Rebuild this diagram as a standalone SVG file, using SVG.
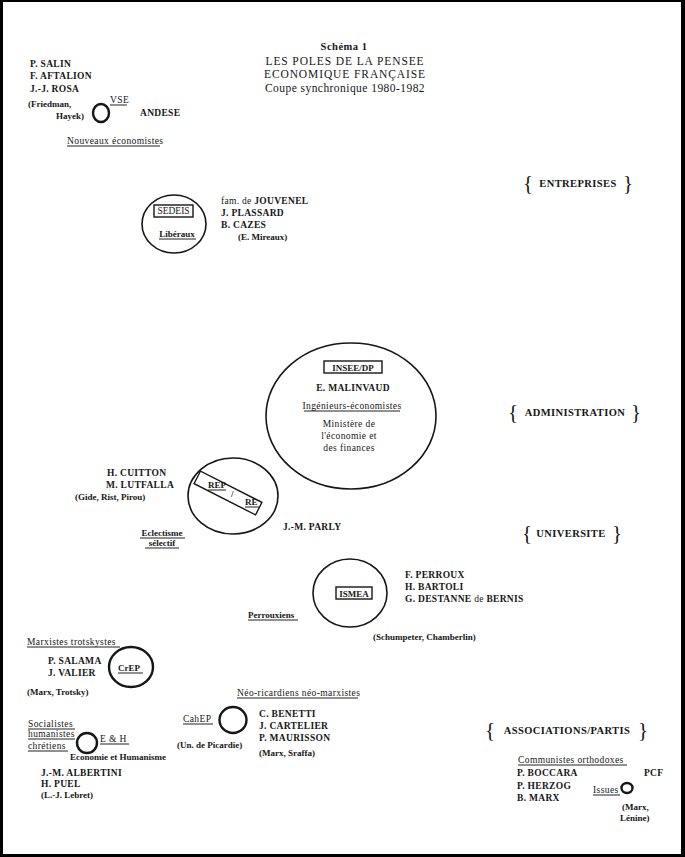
<svg xmlns="http://www.w3.org/2000/svg" width="685" height="857" viewBox="0 0 685 857">
<style>
text{font-family:"Liberation Serif","DejaVu Serif",serif;fill:#161616;font-size:10px}
.n{font-weight:bold;font-size:9.5px;letter-spacing:0.3px}
.s{font-size:9.5px;letter-spacing:0.4px}
.sb{font-size:9px;font-weight:bold}
.tt{font-size:11.5px;letter-spacing:0.9px}
.sec{font-size:10.5px;font-weight:bold;letter-spacing:0.4px}
.br{font-size:21px}
.m{text-anchor:middle}
.e{text-anchor:end}
.c{fill:none;stroke:#161616;stroke-width:1.6}
.ct{fill:none;stroke:#161616;stroke-width:2.4}
.u{stroke:#222;stroke-width:1}
.bx{fill:none;stroke:#161616;stroke-width:1.4}
</style>
<rect width="685" height="857" fill="#fff"/>
<g id="frame" fill="#000">
<rect x="0" y="0" width="685" height="2"/>
<rect x="0" y="0" width="3" height="857"/>
<rect x="681" y="0" width="4" height="857"/>
<rect x="0" y="854" width="685" height="3"/>
</g>
<g id="title">
<text class="m" x="344" y="50" style="font-weight:bold;font-size:10.5px;letter-spacing:0.5px">Schéma 1</text>
<text class="m tt" x="345" y="65">LES POLES DE LA PENSEE</text>
<text class="m tt" x="345" y="78">ECONOMIQUE FRANÇAISE</text>
<text class="m tt" x="345" y="92" style="letter-spacing:0.45px">Coupe synchronique 1980-1982</text>
</g>
<g id="sectors">
<g id="entreprises"><text class="br m" x="528" y="190">{</text><text class="sec m" x="578" y="187">ENTREPRISES</text><text class="br m" x="628" y="190">}</text></g>
<g id="administration"><text class="br m" x="513" y="419">{</text><text class="sec m" x="575" y="416">ADMINISTRATION</text><text class="br m" x="636" y="419">}</text></g>
<g id="universite"><text class="br m" x="527" y="540">{</text><text class="sec m" x="571" y="537">UNIVERSITE</text><text class="br m" x="617" y="540">}</text></g>
<g id="associations"><text class="br m" x="490" y="737">{</text><text class="sec m" x="567" y="734">ASSOCIATIONS/PARTIS</text><text class="br m" x="643" y="737">}</text></g>
</g>
<g id="node-vse">
<text class="n" x="30" y="67">P. SALIN</text>
<text class="n" x="30" y="79">F. AFTALION</text>
<text class="n" x="30" y="92">J.-J. ROSA</text>
<text class="sb" x="28" y="107">(Friedman,</text>
<text class="sb e" x="84" y="119">Hayek)</text>
<ellipse class="ct" cx="101" cy="113" rx="8" ry="9"/>
<text class="s" x="110" y="103">VSE</text>
<text class="n" x="140" y="116">ANDESE</text>
<text class="s" x="67" y="144">Nouveaux économistes</text>
</g>
<g id="node-sedeis">
<ellipse class="c" cx="174" cy="224" rx="32" ry="29"/>
<rect class="bx" x="154" y="205" width="39" height="12"/>
<text class="s m" x="173.5" y="214" style="letter-spacing:0">SEDEIS</text>
<text class="sb m" x="177" y="237">Libéraux</text>
<text class="n" x="221" y="204"><tspan style="font-weight:normal">fam. de</tspan> JOUVENEL</text>
<text class="n" x="221" y="216">J. PLASSARD</text>
<text class="n" x="221" y="228">B. CAZES</text>
<text class="sb" x="238" y="240">(E. Mireaux)</text>
</g>
<g id="node-insee">
<ellipse class="c" cx="351" cy="416" rx="85" ry="73"/>
<rect class="bx" x="324" y="361" width="58" height="12"/>
<text class="m" x="353" y="370.5" style="font-weight:bold;font-size:9px">INSEE/DP</text>
<text class="n m" x="353" y="391">E. MALINVAUD</text>
<text class="s m" x="352" y="409">Ingénieurs-économistes</text>
<text class="s m" x="349" y="427">Ministère de</text>
<text class="s m" x="349" y="439">l'économie et</text>
<text class="s m" x="349" y="451">des finances</text>
</g>
<g id="node-rep">
<ellipse class="c" cx="233" cy="496" rx="45" ry="38"/>
<rect class="bx" x="193.5" y="486" width="69" height="14" transform="rotate(27 228 493)"/>
<text class="sb" x="208" y="488">REP</text>
<text class="sb" x="231" y="497">/</text>
<text class="sb" x="245" y="505">RE</text>
<text class="n" x="107" y="476">H. CUITTON</text>
<text class="n" x="106" y="488">M. LUTFALLA</text>
<text class="sb" x="75" y="500">(Gide, Rist, Pirou)</text>
<text class="sb m" x="162" y="536">Eclectisme</text>
<text class="sb m" x="162" y="546">sélectif</text>
<text class="n" x="283" y="530">J.-M. PARLY</text>
</g>
<g id="node-ismea">
<ellipse class="c" cx="350" cy="593" rx="37" ry="34"/>
<rect class="bx" x="336" y="587" width="36" height="12"/>
<text class="m" x="354" y="596.5" style="font-weight:bold;font-size:9px">ISMEA</text>
<text class="n" x="405" y="578">F. PERROUX</text>
<text class="n" x="405" y="590">H. BARTOLI</text>
<text class="n" x="405" y="602">G. DESTANNE <tspan style="font-weight:normal">de</tspan> BERNIS</text>
<text class="sb" x="248" y="618">Perrouxiens</text>
<text class="sb" x="373" y="640">(Schumpeter, Chamberlin)</text>
</g>
<g id="node-crep">
<text class="s" x="27" y="645">Marxistes trotskystes</text>
<text class="n" x="48" y="664">P. SALAMA</text>
<text class="n" x="48" y="676">J. VALIER</text>
<ellipse class="ct" cx="131" cy="667" rx="22" ry="20"/>
<text class="sb" x="118" y="671">CrEP</text>
<text class="sb" x="27" y="695">(Marx, Trotsky)</text>
</g>
<g id="node-cahep">
<text class="s" x="237" y="696">Néo-ricardiens néo-marxistes</text>
<ellipse class="ct" cx="233" cy="720" rx="13.5" ry="13"/>
<text class="s" x="183" y="722">CahEP</text>
<text class="sb" x="177" y="748">(Un. de Picardie)</text>
<text class="n" x="259" y="717">C. BENETTI</text>
<text class="n" x="259" y="729">J. CARTELIER</text>
<text class="n" x="259" y="741">P. MAURISSON</text>
<text class="sb" x="259" y="756">(Marx, Sraffa)</text>
</g>
<g id="node-eh">
<text class="s" x="28" y="727">Socialistes</text>
<text class="s" x="28" y="737">humanistes</text>
<text class="s" x="28" y="749">chrétiens</text>
<ellipse class="ct" cx="87" cy="743" rx="10" ry="10"/>
<text class="s" x="100" y="742">E &amp; H</text>
<text class="sb" x="70" y="760">Economie et Humanisme</text>
<text class="n" x="41" y="776">J.-M. ALBERTINI</text>
<text class="n" x="41" y="787">H. PUEL</text>
<text class="sb" x="41" y="798">(L.-J. Lebret)</text>
</g>
<g id="node-pcf">
<text class="s" x="518" y="763">Communistes orthodoxes</text>
<text class="n" x="517" y="776">P. BOCCARA</text>
<text class="n" x="517" y="789">P. HERZOG</text>
<text class="n" x="517" y="801">B. MARX</text>
<text class="n" x="644" y="776">PCF</text>
<ellipse class="ct" cx="627" cy="788" rx="5.5" ry="5"/>
<text class="s" x="593" y="793">Issues</text>
<text class="sb" x="622" y="810">(Marx,</text>
<text class="sb" x="620" y="821">Lénine)</text>
</g>
<g id="underlines">
<line class="u" x1="110" y1="105" x2="127" y2="105"/>
<line class="u" x1="67" y1="146" x2="160" y2="146"/>
<line class="u" x1="159" y1="239" x2="196" y2="239"/>
<line class="u" x1="304" y1="411" x2="400" y2="411"/>
<line class="u" x1="208" y1="490" x2="226" y2="490"/>
<line class="u" x1="245" y1="507" x2="259" y2="507"/>
<line class="u" x1="140" y1="538" x2="185" y2="538"/>
<line class="u" x1="145" y1="548" x2="179" y2="548"/>
<line class="u" x1="248" y1="620" x2="298" y2="620"/>
<line class="u" x1="27" y1="647" x2="120" y2="647"/>
<line class="u" x1="118" y1="673" x2="143" y2="673"/>
<line class="u" x1="237" y1="698" x2="358" y2="698"/>
<line class="u" x1="183" y1="724" x2="213" y2="724"/>
<line class="u" x1="28" y1="729" x2="75" y2="729"/>
<line class="u" x1="28" y1="739" x2="75" y2="739"/>
<line class="u" x1="28" y1="751" x2="68" y2="751"/>
<line class="u" x1="100" y1="744" x2="129" y2="744"/>
<line class="u" x1="518" y1="765" x2="627" y2="765"/>
<line class="u" x1="593" y1="795" x2="620" y2="795"/>
</g>
</svg>
